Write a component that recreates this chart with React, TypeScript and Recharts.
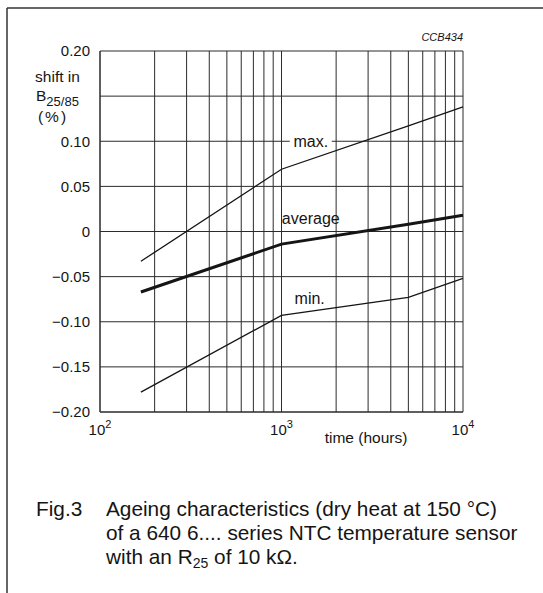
import { LineChart, Line, XAxis, YAxis, CartesianGrid, ReferenceDot } from 'recharts'

const hours = [168, 1000, 5000, 10000]
const maxShift = [-0.033, 0.069, 0.117, 0.138]
const averageShift = [-0.067, -0.014, 0.008, 0.018]
const minShift = [-0.178, -0.093, -0.073, -0.052]

const timeTicks = [100, 200, 300, 400, 500, 600, 700, 800, 900, 1000, 2000, 3000, 4000, 5000, 6000, 7000, 8000, 9000, 10000]
const shiftTicks = [-0.2, -0.15, -0.1, -0.05, 0, 0.05, 0.1, 0.15, 0.2]
// 0.15 has a gridline but no label (the axis title sits there)
const unlabelledShift = [0.15]

const curveLabels = [
  { text: 'max.', hours: 1450, shift: 0.1, masked: true },
  { text: 'average', hours: 1450, shift: 0.0145, masked: false },
  { text: 'min.', hours: 1430, shift: -0.074, masked: false },
]

const data = hours.map((h, i) => ({ hours: h, max: maxShift[i], average: averageShift[i], min: minShift[i] }))

const font = '"Liberation Sans", Arial, Helvetica, sans-serif'
const ink = '#151515'

function formatShift(v: number) {
  if (unlabelledShift.some((u) => Math.abs(u - v) < 1e-9)) return ''
  if (Math.abs(v) < 1e-9) return '0'
  return v.toFixed(2).replace('-', '\u2212')
}

function DecadeTick(props: any) {
  const { x, y, payload } = props
  const exp = Math.round(Math.log10(payload.value))
  if (Math.abs(10 ** exp - payload.value) > 1e-6) return <g />
  return (
    <text x={x} y={y + 23} textAnchor="middle" fontSize={15} fill={ink} fontFamily={font}>
      10<tspan dy={-7} fontSize={11}>{exp}</tspan>
    </text>
  )
}

export default function App() {
  return (
    <div style={{ position: 'absolute', left: 0, top: 0, width: 543, height: 593, background: '#fff', overflow: 'hidden' }}>
      <LineChart width={543} height={593} data={data} margin={{ top: 51, right: 80, bottom: 151, left: 90 }}>
        <CartesianGrid stroke="#2b2b2b" strokeWidth={1} />
        <XAxis
          dataKey="hours"
          type="number"
          scale="log"
          domain={[100, 10000]}
          ticks={timeTicks}
          interval={0}
          tick={<DecadeTick />}
          tickLine={false}
          tickSize={0}
          tickMargin={0}
          height={30}
          axisLine={{ stroke: '#2b2b2b' }}
        />
        <YAxis
          type="number"
          domain={[-0.2, 0.2]}
          ticks={shiftTicks}
          interval={0}
          tickFormatter={formatShift}
          tick={{ fontSize: 15, fill: ink, fontFamily: font }}
          tickLine={false}
          tickSize={0}
          tickMargin={10}
          width={10}
          axisLine={{ stroke: '#2b2b2b' }}
        />
        <Line dataKey="max" type="linear" stroke={ink} strokeWidth={1.3} dot={false} isAnimationActive={false} />
        <Line dataKey="average" type="linear" stroke={ink} strokeWidth={3} dot={false} isAnimationActive={false} />
        <Line dataKey="min" type="linear" stroke={ink} strokeWidth={1.3} dot={false} isAnimationActive={false} />
        {curveLabels.map((l) => (
          <ReferenceDot
            key={l.text}
            x={l.hours}
            y={l.shift}
            r={0}
            ifOverflow="visible"
            shape={(p: any) => (
              <g>
                {l.masked && <rect x={p.cx - 21} y={p.cy - 8} width={42} height={16} fill="#fff" />}
                <text x={p.cx} y={p.cy} dy="0.35em" textAnchor="middle" fontSize={16} fill={ink} fontFamily={font}>
                  {l.text}
                </text>
              </g>
            )}
          />
        ))}
      </LineChart>
      <svg width={543} height={593} style={{ position: 'absolute', left: 0, top: 0, pointerEvents: 'none' }} fontFamily={font} fill={ink}>
        <line x1={7} y1={8} x2={543} y2={8} stroke="#333" strokeWidth={1.5} />
        <line x1={7} y1={8} x2={7} y2={593} stroke="#333" strokeWidth={1.5} />
        <text x={463} y={41} textAnchor="end" fontSize={11} fontStyle="italic">CCB434</text>
        <text x={57.5} y={82} textAnchor="middle" fontSize={15.5}>shift in</text>
        <text x={36} y={101} fontSize={15.5}>
          B<tspan dy={5} fontSize={13}>25/85</tspan>
        </text>
        <text x={53} y={122} textAnchor="middle" fontSize={15.5} letterSpacing={2}>(%)</text>
        <text x={366} y={443} textAnchor="middle" fontSize={15.5}>time (hours)</text>
        <g fontSize={20.8}>
          <text x={36} y={516}>Fig.3</text>
          <text x={106} y={516}>Ageing characteristics (dry heat at 150 °C)</text>
          <text x={106} y={540}>of a 640 6.... series NTC temperature sensor</text>
          <text x={106} y={564}>
            with an R<tspan dy={4} fontSize={14}>25</tspan><tspan dy={-4}> of 10 kΩ.</tspan>
          </text>
        </g>
      </svg>
    </div>
  )
}
